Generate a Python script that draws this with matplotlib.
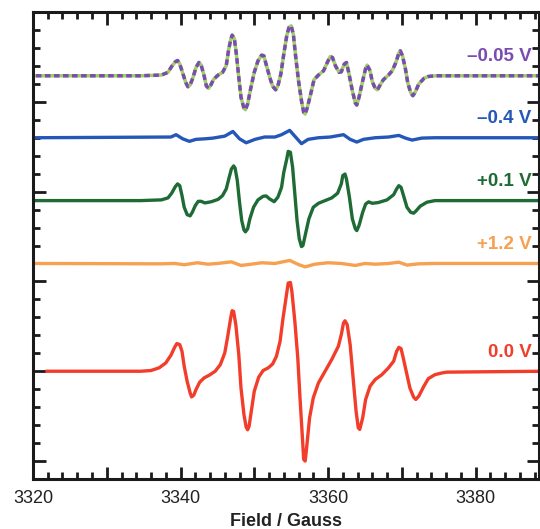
import matplotlib
matplotlib.use("Agg")
import matplotlib.pyplot as plt
from matplotlib.ticker import MultipleLocator, FuncFormatter

plt.rcParams["font.family"] = ["Liberation Sans", "DejaVu Sans"]

# EPR spectra (field in Gauss, intensity in arbitrary units)
red_field = [3321.9, 3334.6, 3336.0, 3337.1, 3338.0, 3338.7, 3339.2, 3339.5, 3339.9, 3340.2,
             3340.5, 3340.9, 3341.3, 3341.5, 3341.8, 3342.1, 3342.6, 3343.2, 3343.9, 3344.7,
             3345.4, 3346.0, 3346.4, 3346.8, 3347.0, 3347.2, 3347.5, 3347.9, 3348.2, 3348.6,
             3348.9, 3349.1, 3349.3, 3349.6, 3350.0, 3350.6, 3351.2, 3351.9, 3352.5, 3353.0,
             3353.5, 3353.9, 3354.4, 3354.6, 3354.9, 3355.1, 3355.5, 3355.9, 3356.2, 3356.5,
             3356.7, 3356.9, 3357.1, 3357.5, 3358.0, 3358.7, 3359.6, 3360.5, 3361.4, 3361.8,
             3362.1, 3362.3, 3362.6, 3363.0, 3363.4, 3363.8, 3364.1, 3364.3, 3364.7, 3365.1,
             3365.7, 3366.4, 3367.3, 3368.2, 3368.9, 3369.3, 3369.6, 3369.9, 3370.2, 3370.7,
             3371.1, 3371.6, 3371.9, 3372.3, 3373.0, 3373.6, 3374.5, 3375.5, 3376.1, 3389.0]
red_int = [0, 0, 0.04, 0.19, 0.46, 0.89, 1.33, 1.54, 1.48, 1.11,
           0.28, -0.56, -1.20, -1.43, -1.33, -1.02, -0.61, -0.37, -0.22, 0,
           0.37, 1.02, 1.94, 2.96, 3.37, 3.33, 2.59, 0.93, -0.93, -2.41,
           -3.11, -3.26, -3.06, -2.22, -1.11, -0.33, 0.04, 0.19, 0.41, 0.83,
           1.67, 2.96, 4.35, 4.91, 4.94, 4.44, 2.78, 0.74, -1.48, -3.52,
           -4.91, -5.00, -4.26, -2.59, -1.48, -0.65, 0, 0.65, 1.39, 2.04,
           2.69, 2.81, 2.59, 1.48, -0.37, -2.22, -3.15, -3.24, -2.59, -1.57,
           -0.83, -0.46, -0.19, 0.19, 0.56, 1.11, 1.33, 1.26, 0.74, -0.19,
           -0.93, -1.44, -1.57, -1.39, -0.83, -0.41, -0.19, -0.09, -0.05, 0]

green_field = [3320.3, 3334.6, 3337.4, 3338.3, 3338.8, 3339.3, 3339.6, 3339.9, 3340.2, 3340.5,
               3340.9, 3341.3, 3341.6, 3342.0, 3342.4, 3342.8, 3343.3, 3344.2, 3345.1, 3345.7,
               3346.2, 3346.6, 3346.9, 3347.2, 3347.4, 3347.7, 3348.0, 3348.3, 3348.6, 3348.8,
               3349.1, 3349.4, 3349.9, 3350.5, 3351.2, 3351.6, 3352.1, 3352.7, 3353.2, 3353.7,
               3354.0, 3354.4, 3354.6, 3354.9, 3355.2, 3355.5, 3355.8, 3356.1, 3356.4, 3356.6,
               3356.9, 3357.4, 3358.0, 3358.7, 3359.6, 3360.5, 3361.3, 3361.8, 3362.0, 3362.3,
               3362.5, 3362.9, 3363.3, 3363.7, 3363.9, 3364.2, 3364.7, 3365.1, 3365.5, 3366.0,
               3366.8, 3368.0, 3368.9, 3369.3, 3369.6, 3369.9, 3370.3, 3370.7, 3371.2, 3371.6,
               3371.9, 3372.5, 3373.4, 3374.5, 3389.0]
green_int = [0, 0, 0.04, 0.15, 0.41, 0.78, 0.93, 0.83, 0.28, -0.37,
             -0.78, -0.85, -0.65, -0.28, -0.04, -0.04, -0.13, -0.06, 0.07, 0.28,
             0.65, 1.30, 1.76, 1.93, 1.81, 1.11, -0.09, -1.11, -1.63, -1.74,
             -1.57, -1.02, -0.37, 0.04, 0.24, 0.26, 0.09, -0.06, 0.19, 0.74,
             1.57, 2.31, 2.74, 2.69, 1.85, 0.37, -1.11, -2.13, -2.56, -2.50,
             -1.94, -1.02, -0.37, -0.15, 0, 0.15, 0.41, 0.93, 1.39, 1.48,
             1.20, 0.19, -1.02, -1.57, -1.67, -1.39, -0.65, -0.19, -0.07, -0.15,
             -0.11, 0.04, 0.33, 0.65, 0.83, 0.74, 0.19, -0.37, -0.65, -0.70,
             -0.59, -0.31, -0.09, 0, 0]

purple_field = [3320.4, 3334.6, 3337.4, 3338.3, 3338.8, 3339.3, 3339.6, 3339.9, 3340.3, 3340.7,
                3341.0, 3341.3, 3341.7, 3342.1, 3342.5, 3342.8, 3343.2, 3343.5, 3343.8, 3344.1,
                3344.5, 3345.1, 3345.7, 3346.2, 3346.5, 3346.8, 3347.0, 3347.3, 3347.6, 3347.9,
                3348.2, 3348.6, 3348.8, 3349.1, 3349.5, 3350.0, 3350.5, 3351.0, 3351.3, 3351.6,
                3352.1, 3352.5, 3352.9, 3353.2, 3353.6, 3354.0, 3354.4, 3354.7, 3355.0, 3355.3,
                3355.6, 3356.0, 3356.4, 3356.7, 3356.9, 3357.2, 3357.7, 3358.1, 3358.7, 3359.4,
                3359.9, 3360.3, 3360.6, 3361.0, 3361.5, 3361.8, 3362.2, 3362.5, 3362.8, 3363.3,
                3363.7, 3363.9, 3364.2, 3364.7, 3365.1, 3365.3, 3365.7, 3366.0, 3366.4, 3366.7,
                3367.0, 3367.5, 3368.2, 3368.7, 3369.2, 3369.6, 3369.8, 3370.1, 3370.5, 3370.8,
                3371.2, 3371.5, 3371.8, 3372.3, 3373.0, 3373.6, 3374.5, 3389.0]
purple_int = [0, 0, 0.04, 0.19, 0.52, 0.78, 0.85, 0.65, 0.15, -0.37,
              -0.61, -0.52, -0.09, 0.46, 0.74, 0.59, 0, -0.56, -0.70, -0.52,
              -0.19, 0.04, 0.19, 0.56, 1.39, 2.00, 2.26, 2.07, 1.11, -0.09,
              -1.20, -1.81, -1.89, -1.57, -0.74, 0.19, 0.83, 1.15, 1.11, 0.65,
              -0.09, -0.59, -0.78, -0.56, 0.09, 1.20, 2.22, 2.69, 2.78, 2.31,
              1.11, -0.28, -1.39, -2.04, -2.13, -1.76, -0.93, -0.22, 0.04, 0.28,
              0.74, 1.07, 1.02, 0.56, 0.19, 0.22, 0.65, 0.74, 0.19, -0.83,
              -1.52, -1.63, -1.20, -0.28, 0.41, 0.59, 0.28, -0.33, -0.70, -0.78,
              -0.56, -0.22, 0.04, 0.28, 0.74, 1.26, 1.39, 1.11, 0.37, -0.37,
              -0.93, -1.11, -0.93, -0.46, -0.15, -0.04, 0, 0]

blue_field = [3320.3, 3338.7, 3339.4, 3340.3, 3341.2, 3342.1, 3343.3, 3344.4, 3346.0, 3347.1,
              3348.0, 3348.9, 3350.1, 3351.4, 3352.8, 3353.7, 3354.8, 3355.6, 3356.4, 3357.3,
              3358.7, 3360.3, 3362.1, 3363.0, 3363.9, 3364.8, 3366.4, 3368.2, 3369.6, 3370.5,
              3371.4, 3372.7, 3374.5, 3389.0]
blue_int = [0, 0.04, 0.17, -0.06, -0.20, -0.09, -0.06, -0.02, 0.09, 0.35,
            -0.06, -0.28, -0.09, 0.04, 0.04, 0.17, 0.41, 0.04, -0.33, -0.09,
            0, 0.04, 0.17, -0.09, -0.24, -0.09, 0, 0.04, 0.13, -0.02,
            -0.13, -0.02, 0, 0]

orange_field = [3320.3, 3337.4, 3339.2, 3340.5, 3342.3, 3343.7, 3345.0, 3346.9, 3348.2, 3349.6,
                3351.0, 3352.8, 3354.8, 3356.0, 3356.9, 3358.2, 3360.0, 3361.8, 3363.7, 3365.0,
                3366.4, 3368.2, 3369.6, 3370.7, 3372.3, 3374.5, 3389.0]
orange_int = [0, -0.02, 0, -0.07, 0.04, -0.04, 0, 0.09, -0.11, -0.04,
              0.04, 0, 0.17, -0.06, -0.19, -0.04, 0.04, 0, -0.11, 0,
              -0.04, 0, 0.07, -0.09, -0.02, 0, 0]

labels = ["\u20130.05 V", "\u20130.4 V", "+0.1 V", "+1.2 V", "0.0 V"]
offsets = [21.45, 18.0, 14.5, 11.0, 5.0]
colors = ["#7a4cb2", "#2457b8", "#1f6b36", "#f7a050", "#f23d2a"]

spectra = [(purple_field, purple_int), (blue_field, blue_int), (green_field, green_int),
           (orange_field, orange_int), (red_field, red_int)]

fig = plt.figure(figsize=(5.40, 5.29), dpi=100)
ax = fig.add_axes([0.0611, 0.0945, 0.9370, 0.8828])

for i, ((fx, iy), off, col, lab) in enumerate(zip(spectra, offsets, colors, labels)):
    yy = [v + off for v in iy]
    if i == 0:
        # dashed purple over light green, as in the original
        ax.plot(fx, yy, color="#9fd060", lw=2.5, solid_joinstyle="round")
        ax.plot(fx, yy, color=col, lw=2.5, linestyle=(0, (1.6, 1.0)),
                dash_joinstyle="round")
    else:
        ax.plot(fx, yy, color=col, lw=2.4, solid_joinstyle="round")
    ax.text(3387.6, off + 1.05, lab, color=col, fontsize=13.5, fontweight="bold",
            ha="right", va="center")

ax.set_xlim(3320, 3388.6)
ax.set_ylim(-1, 25)

ax.xaxis.set_major_locator(MultipleLocator(10))
ax.xaxis.set_minor_locator(MultipleLocator(2))
ax.xaxis.set_major_formatter(FuncFormatter(lambda v, p: f"{v:.0f}" if round(v) % 20 == 0 else ""))
ax.yaxis.set_major_locator(MultipleLocator(5))
ax.yaxis.set_minor_locator(MultipleLocator(1))

ax.tick_params(which="both", direction="in", top=True, right=True, width=2, color="#1a1a1a")
ax.tick_params(which="major", length=9)
ax.tick_params(which="minor", length=5)
ax.tick_params(axis="x", labelsize=13, pad=8, labelcolor="#222222")
ax.tick_params(axis="y", labelleft=False)

for sp in ax.spines.values():
    sp.set_linewidth(2.2)
    sp.set_color("#1a1a1a")

ax.set_xlabel("Field / Gauss", fontsize=13, fontweight="bold", labelpad=4, color="#222222")

fig.savefig("out.png", dpi=100)
